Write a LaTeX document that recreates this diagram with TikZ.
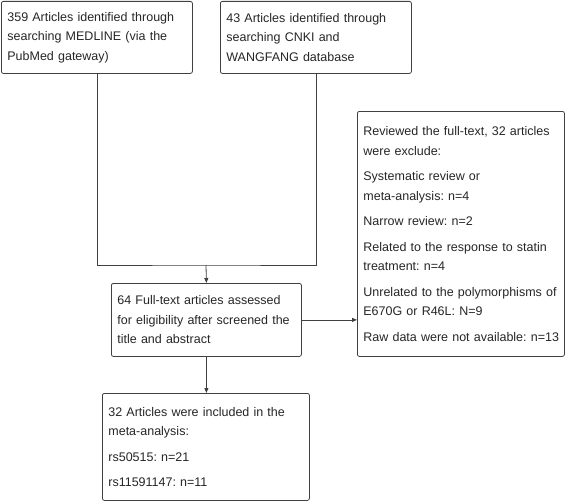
\documentclass[tikz,border=0pt]{standalone}
\usepackage{fontspec}
\setmainfont{Liberation Sans}
\usetikzlibrary{positioning,arrows.meta}

\begin{document}
\frenchspacing
\begin{tikzpicture}[x=1pt, y=-1pt, font=\fontsize{12.5}{19.5}\selectfont,
    box/.style = {draw=black!75, line width=0.8pt, rounded corners=2pt, anchor=north west,
                  align=left, inner xsep=6pt, inner ysep=5pt, text=black!85},
    link/.style = {draw=black!75, line width=0.8pt},
    arr/.style = {link, -{Triangle[length=5pt, width=4pt]}}]
    \useasboundingbox (0,0) rectangle (567,503);

    % sources
    \node[box, text width=179pt, minimum height=72pt] (medline) at (1,1)
        {359 Articles identified through\\searching MEDLINE (via the\\PubMed gateway)\\[4pt]};
    \node[box, text width=179pt, minimum height=72pt] (cnki) at (220,1)
        {43 Articles identified through\\searching CNKI and\\WANGFANG database\\[4pt]};

    % screening
    \node[box, text width=178pt, minimum height=73pt] (fulltext) at (111,283)
        {64 Full-text articles assessed\\for eligibility after screened the\\title and abstract};
    \node[box, text width=195pt, minimum height=245pt] (excluded) at (357,111)
        {Reviewed the full-text, 32 articles\\were exclude:\\[6pt]
         Systematic review or\\meta-analysis: n=4\\[6pt]
         Narrow review: n=2\\[6pt]
         Related to the response to statin\\treatment: n=4\\[6pt]
         Unrelated to the polymorphisms of\\E670G or R46L: N=9\\[6pt]
         \mbox{Raw data were not available: n=13}};

    % included
    \node[box, text width=195pt, minimum height=107pt] (included) at (102,393)
        {32 Articles were included in the\\meta-analysis:\\[6pt]
         rs50515: n=21\\[6pt]
         rs11591147: n=11};

    \coordinate (merge) at (206,265);
    \draw[link] (medline.south) |- (merge) -| (cnki.south);
    \draw[arr] (merge) -- (fulltext.north);
    \draw[arr] (fulltext.east) -- (excluded.west |- fulltext.east);
    \draw[arr] (fulltext.south) -- (fulltext.south |- included.north);
\end{tikzpicture}
\end{document}
